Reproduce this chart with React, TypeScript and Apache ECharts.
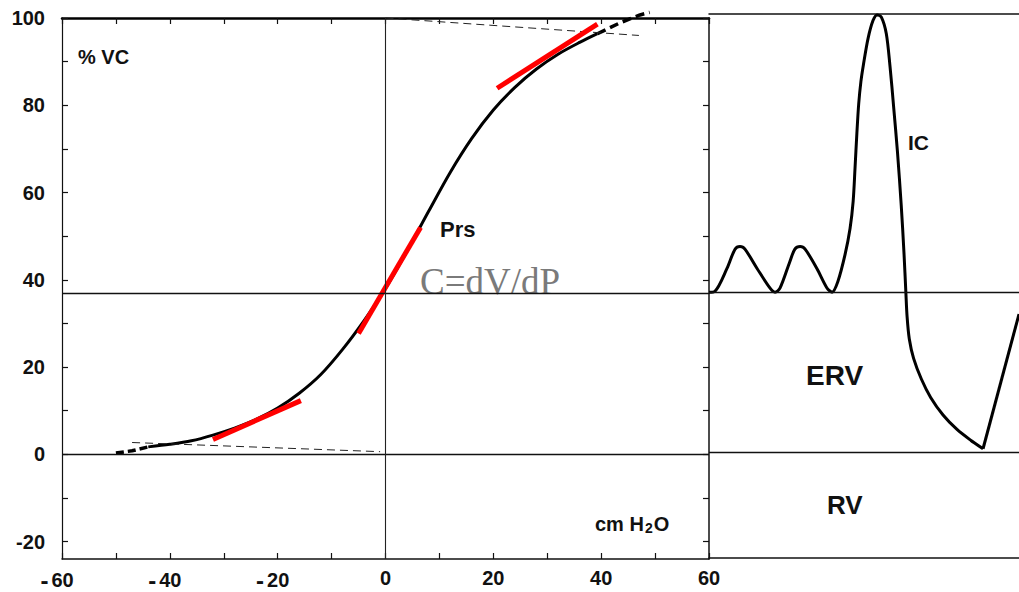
import React, { useEffect, useRef } from "react";
import * as echarts from "echarts";

// ---------- DATA ----------
// Relaxation pressure–volume curve of the respiratory system (Prs), cm H2O vs %VC
const prsPressure = [-44, -40, -36, -32, -28, -24, -20, -16, -12, -8, -4, 0, 4, 8, 12, 16, 20, 24, 28, 32, 36, 39.3];
const prsVolume = [1.7, 2.3, 3.1, 4.4, 6.0, 8.0, 10.6, 14.0, 18.3, 24.0, 30.6, 38.0, 46.6, 55.7, 64.6, 72.4, 78.9, 84.1, 88.3, 91.7, 94.4, 96.4];
// extrapolated (thick dashed) ends of the curve
const lowExtPressure = [-50, -47, -44];
const lowExtVolume = [0.3, 0.8, 1.7];
const highExtPressure = [39.3, 43.5, 47.2, 49];
const highExtVolume = [96.4, 98.9, 100.7, 101.3];
// thin dashed asymptotes
const lowAsymPressure = [-47, -1];
const lowAsymVolume = [2.7, 0.6];
const highAsymPressure = [0, 47];
const highAsymVolume = [100, 96];
// tangents (compliance C = dV/dP)
const tanLowPressure = [-32, -15.7];
const tanLowVolume = [3.4, 12.3];
const tanMidPressure = [-5, 6.5];
const tanMidVolume = [27.7, 52];
const tanHighPressure = [20.7, 39.3];
const tanHighVolume = [83.9, 98.6];
// reference levels
const frcLevelLeft = 36.8;
const frcLevelRight = 36.6;
const rvLevel = 0;

// Spirogram (time in arbitrary units, volume %VC)
const spiroTime = [0, 1.9, 5.8, 8.4, 10, 11.6, 15.5, 19.7, 21.3, 22.9, 26.1, 27.7, 29.4, 31, 34.8, 38.1, 39.7, 41.6, 43.9, 45.5, 46.5, 47.1, 47.7, 48.3, 49.0, 49.8, 51.3, 52.9, 54.2, 55.6, 57.2, 58.4, 59.6, 60.8, 62.0, 62.9, 63.5, 63.9, 64.6, 66.0, 68.5, 71.5, 75.5, 80.0, 84.5, 88.4];
const spiroVolume = [36.6, 36.8, 42, 46.4, 47, 46.4, 42, 37.5, 36.6, 37.5, 43.6, 46.4, 47, 46.4, 42, 37.5, 36.6, 39.1, 45.2, 51.1, 57.3, 64.8, 72.8, 79.6, 84.6, 88.4, 94.4, 98.5, 99.8, 99.3, 95.5, 88.0, 78.5, 68.5, 56.5, 45.5, 36.6, 31.0, 26.0, 21.5, 16.8, 12.6, 8.6, 5.3, 2.8, 0.9];
const riseTime = [88.4, 100];
const riseVolume = [0.9, 31.6];

// axis ticks / labels
const yTickValues = [-20, -10, 0, 10, 20, 30, 40, 50, 60, 70, 80, 90, 100];
const yLabelValues = [-20, 0, 20, 40, 60, 80, 100];

const pairs = (xs: number[], ys: number[]) => xs.map((x, i) => [x, ys[i]]);

const SANS = '"Liberation Sans", Arial, sans-serif';

export default function App() {
  const ref = useRef<HTMLDivElement>(null);
  useEffect(() => {
    if (!ref.current) return;
    const chart = echarts.init(ref.current, undefined, { renderer: "svg" });

    const lab = { fontFamily: SANS, fontWeight: "bold" as const, fontSize: 20, color: "#111" };
    const blackLine = (w: number) => ({ color: "#111", width: w });

    const lineSeries = (name: string, data: number[][], style: any, extra: any = {}) => ({
      name,
      type: "line",
      data,
      symbol: "none",
      silent: true,
      lineStyle: style,
      emphasis: { disabled: true },
      ...extra,
    });

    const option: any = {
      animation: false,
      backgroundColor: "#fff",
      grid: [
        { left: 62, top: 18, width: 647, height: 544 },
        { left: 709, top: 14, width: 310, height: 544 },
      ],
      xAxis: [
        {
          gridIndex: 0, type: "value", min: -60, max: 60, interval: 10, position: "bottom",
          axisLine: { show: true, onZero: false, lineStyle: blackLine(1.5) },
          axisTick: { show: true, inside: true, length: 6, lineStyle: blackLine(1.2) },
          splitLine: { show: false },
          axisLabel: {
            ...lab, margin: 9, showMinLabel: true, showMaxLabel: true,
            formatter: (v: number) => {
              const r = Math.round(v);
              if (r % 20 !== 0) return "";
              if (r < 0) return `{m|-}{d|${-r}}`;
              return `{n|${r}}`;
            },
            rich: {
              m: { ...lab, fontSize: 24, padding: [0, 3, 0, 0] },
              d: { ...lab, padding: [0, 10, 0, 0] },
              n: { ...lab },
            },
          },
        },
        {
          gridIndex: 0, type: "value", min: -60, max: 60, interval: 10, position: "top",
          axisLine: { show: true, onZero: false, lineStyle: { color: "#000", width: 2.5 } },
          axisTick: { show: true, inside: true, length: 6, lineStyle: blackLine(1.2) },
          axisLabel: { show: false },
          splitLine: { show: false },
        },
        {
          gridIndex: 1, type: "value", min: 0, max: 100, position: "bottom",
          axisLine: { show: true, onZero: false, lineStyle: blackLine(1.5) },
          axisTick: { show: false }, axisLabel: { show: false }, splitLine: { show: false },
        },
        {
          gridIndex: 1, type: "value", min: 0, max: 100, position: "top",
          axisLine: { show: true, onZero: false, lineStyle: blackLine(1.5) },
          axisTick: { show: false }, axisLabel: { show: false }, splitLine: { show: false },
        },
      ],
      yAxis: [
        {
          gridIndex: 0, type: "value", min: -24, max: 100, position: "left",
          axisLine: { show: true, onZero: false, lineStyle: blackLine(1.2) },
          axisTick: { show: true, inside: true, length: 6, customValues: yTickValues, lineStyle: blackLine(1.2) },
          axisLabel: { ...lab, margin: 17, customValues: yLabelValues },
          splitLine: { show: false },
        },
        {
          gridIndex: 0, type: "value", min: -24, max: 100, position: "right",
          axisLine: { show: true, onZero: false, lineStyle: blackLine(1.5) },
          axisTick: { show: true, inside: true, length: 6, customValues: yTickValues, lineStyle: blackLine(1.2) },
          axisLabel: { show: false },
          splitLine: { show: false },
        },
        {
          gridIndex: 1, type: "value", min: -24, max: 100, show: false,
        },
      ],
      series: [
        lineSeries("Prs", pairs(prsPressure, prsVolume), { color: "#000", width: 3 }, {
          smooth: 0.3,
          markLine: {
            silent: true, symbol: ["none", "none"], label: { show: false },
            lineStyle: { color: "#111", width: 1.4, type: "solid" },
            emphasis: { disabled: true },
            data: [{ yAxis: frcLevelLeft }, { yAxis: rvLevel }, { xAxis: 0, lineStyle: { color: "#222", width: 1.1, type: "solid" } }],
          },
        }),
        lineSeries("lowExt", pairs(lowExtPressure, lowExtVolume), { color: "#000", width: 3.5, type: [8, 4] }),
        lineSeries("highExt", pairs(highExtPressure, highExtVolume), { color: "#000", width: 3.5, type: [9, 5] }, { clip: false }),
        lineSeries("lowAsym", pairs(lowAsymPressure, lowAsymVolume), { color: "#222", width: 1, type: [8, 5] }),
        lineSeries("highAsym", pairs(highAsymPressure, highAsymVolume), { color: "#222", width: 1, type: [8, 5] }, { clip: false }),
        lineSeries("tanLow", pairs(tanLowPressure, tanLowVolume), { color: "#ff0000", width: 5 }),
        lineSeries("tanMid", pairs(tanMidPressure, tanMidVolume), { color: "#ff0000", width: 5 }),
        lineSeries("tanHigh", pairs(tanHighPressure, tanHighVolume), { color: "#ff0000", width: 5 }),
        lineSeries("spiro", pairs(spiroTime, spiroVolume), { color: "#000", width: 3 }, {
          xAxisIndex: 2, yAxisIndex: 2, smooth: 0.3,
          markLine: {
            silent: true, symbol: ["none", "none"], label: { show: false },
            lineStyle: { color: "#111", width: 1.4, type: "solid" },
            emphasis: { disabled: true },
            data: [{ yAxis: frcLevelRight }, { yAxis: rvLevel }],
          },
        }),
        lineSeries("rise", pairs(riseTime, riseVolume), { color: "#000", width: 3 }, { xAxisIndex: 2, yAxisIndex: 2 }),
      ],
      graphic: [
        { type: "text", x: 78, y: 57, silent: true, style: { text: "% VC", font: `bold 20px ${SANS}`, fill: "#111", verticalAlign: "middle" } },
        { type: "text", x: 440, y: 229, silent: true, style: { text: "Prs", font: `bold 22px ${SANS}`, fill: "#111", verticalAlign: "middle" } },
        { type: "text", x: 420, y: 281, silent: true, style: { text: "C=dV/dP", font: `37px "Liberation Serif", "Times New Roman", serif`, fill: "#7a7a7a", verticalAlign: "middle" } },
        { type: "text", x: 908, y: 142, silent: true, style: { text: "IC", font: `bold 21px ${SANS}`, fill: "#111", verticalAlign: "middle" } },
        { type: "text", x: 806, y: 375, silent: true, style: { text: "ERV", font: `bold 28px ${SANS}`, fill: "#111", verticalAlign: "middle" } },
        { type: "text", x: 827, y: 505, silent: true, style: { text: "RV", font: `bold 26px ${SANS}`, fill: "#111", verticalAlign: "middle" } },
        {
          type: "text", x: 595, y: 514, silent: true,
          style: {
            text: "{a|cm H}{s|2}{a|O}",
            verticalAlign: "top",
            rich: {
              a: { fontFamily: SANS, fontWeight: "bold", fontSize: 20, fill: "#111", lineHeight: 21, verticalAlign: "top" },
              s: { fontFamily: SANS, fontWeight: "bold", fontSize: 14, fill: "#111", lineHeight: 16, padding: [10, 1, 0, 1], verticalAlign: "bottom" },
            },
          },
        },
      ],
    };

    chart.setOption(option);
    return () => chart.dispose();
  }, []);

  return (
    <div
      ref={ref}
      style={{ position: "fixed", left: 0, top: 0, width: 1019, height: 592, background: "#fff" }}
    />
  );
}
